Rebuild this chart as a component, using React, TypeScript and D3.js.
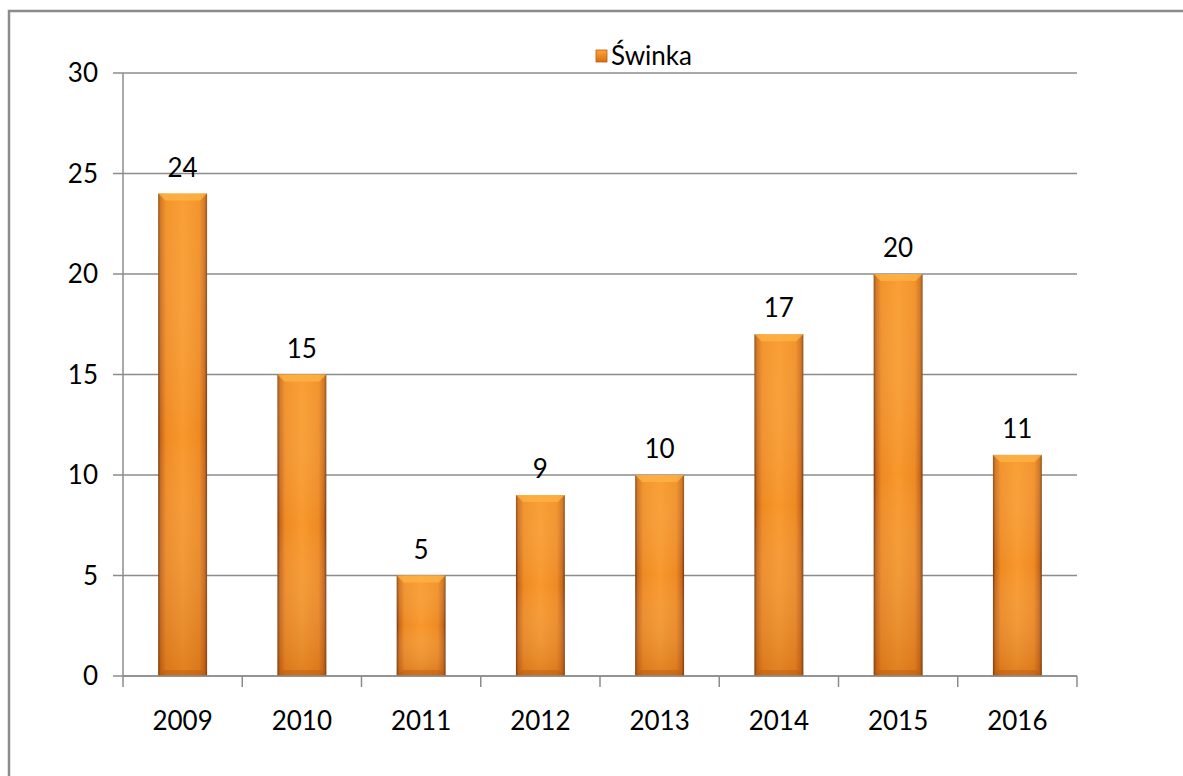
import React, { useEffect, useRef } from 'react';
import * as d3 from 'd3';

const years = ['2009', '2010', '2011', '2012', '2013', '2014', '2015', '2016'];
const values = [24, 15, 5, 9, 10, 17, 20, 11];
const yTicks = [0, 5, 10, 15, 20, 25, 30];
const seriesName = 'Świnka';

const App = () => {
  const ref = useRef<SVGSVGElement>(null);

  useEffect(() => {
    if (!ref.current) return;
    document.body.style.margin = '0';
    document.body.style.overflow = 'hidden';
    const svg = d3.select(ref.current);
    svg.selectAll('*').remove();

    const left = 123, right = 1077, top = 73, bottom = 676;
    const font = 'Lato, "Open Sans", sans-serif';
    const fs = 26;

    // gradients for bars
    const defs = svg.append('defs');
    const hg = defs.append('linearGradient').attr('id', 'barH').attr('x1', 0).attr('x2', 1).attr('y1', 0).attr('y2', 0);
    [[0, '#6e3a0c'], [0.05, '#c8661a'], [0.16, '#ee8a22'], [0.5, '#f8982c'], [0.84, '#ee8a22'], [0.95, '#c8661a'], [1, '#6e3a0c']]
      .forEach(([o, c]) => hg.append('stop').attr('offset', o as number).attr('stop-color', c as string));
    const vg = defs.append('linearGradient').attr('id', 'barV').attr('x1', 0).attr('x2', 0).attr('y1', 0).attr('y2', 1);
    [[0, '#ffb347', 0.25], [0.5, '#ffffff', 0], [1, '#a84800', 0.3]]
      .forEach(([o, c, a]) => vg.append('stop').attr('offset', o as number).attr('stop-color', c as string).attr('stop-opacity', a as number));
    const lg = defs.append('linearGradient').attr('id', 'legG').attr('x1', 0).attr('x2', 0).attr('y1', 0).attr('y2', 1);
    lg.append('stop').attr('offset', 0).attr('stop-color', '#ffa63a');
    lg.append('stop').attr('offset', 1).attr('stop-color', '#d96e14');

    // outer border
    svg.append('path')
      .attr('d', 'M9,780 L9,11 L1190,11')
      .attr('fill', 'none')
      .attr('stroke', '#8c8c8c')
      .attr('stroke-width', 2.5);

    const x = d3.scaleBand<string>().domain(years).range([left, right]).paddingInner(0.59).paddingOuter(0.295);
    const y = d3.scaleLinear().domain([0, 30]).range([bottom, top]);

    // grid
    svg.append('g')
      .selectAll('line')
      .data(yTicks)
      .join('line')
      .attr('x1', left - 10)
      .attr('x2', right)
      .attr('y1', d => y(d))
      .attr('y2', d => y(d))
      .attr('stroke', '#8c8c8c')
      .attr('stroke-width', 1.5);

    // y axis line
    svg.append('line')
      .attr('x1', left).attr('x2', left)
      .attr('y1', top).attr('y2', bottom)
      .attr('stroke', '#8c8c8c').attr('stroke-width', 1.5);

    // x ticks at category boundaries
    const step = x.step();
    const bounds = d3.range(years.length + 1).map(i => left + i * step);
    svg.append('g')
      .selectAll('line')
      .data(bounds)
      .join('line')
      .attr('x1', d => d).attr('x2', d => d)
      .attr('y1', bottom).attr('y2', bottom + 11)
      .attr('stroke', '#8c8c8c').attr('stroke-width', 1.5);

    // y labels
    svg.append('g')
      .selectAll('text')
      .data(yTicks)
      .join('text')
      .attr('x', left - 25)
      .attr('y', d => y(d))
      .attr('dy', '0.36em')
      .attr('text-anchor', 'end')
      .attr('font-family', font)
      .attr('font-size', fs)
      .text(d => d);

    // x labels
    svg.append('g')
      .selectAll('text')
      .data(years)
      .join('text')
      .attr('x', d => (x(d) as number) + x.bandwidth() / 2)
      .attr('y', 730)
      .attr('text-anchor', 'middle')
      .attr('font-family', font)
      .attr('font-size', fs)
      .text(d => d);

    // bars
    const bars = svg.append('g')
      .selectAll('g')
      .data(years.map((yr, i) => ({ yr, v: values[i] })))
      .join('g');

    bars.append('rect')
      .attr('x', d => x(d.yr) as number)
      .attr('y', d => y(d.v))
      .attr('width', x.bandwidth())
      .attr('height', d => bottom - y(d.v))
      .attr('fill', 'url(#barH)');
    bars.append('rect')
      .attr('x', d => x(d.yr) as number)
      .attr('y', d => y(d.v))
      .attr('width', x.bandwidth())
      .attr('height', d => bottom - y(d.v))
      .attr('fill', 'url(#barV)');
    // top bevel
    bars.append('path')
      .attr('d', d => {
        const x0 = x(d.yr) as number, x1 = x0 + x.bandwidth(), t = y(d.v), b = 7;
        return `M${x0},${t} L${x1},${t} L${x1 - b},${t + b} L${x0 + b},${t + b} Z`;
      })
      .attr('fill', '#ffb447')
      .attr('opacity', 0.75);
    // bottom bevel
    bars.append('path')
      .attr('d', d => {
        const x0 = x(d.yr) as number, x1 = x0 + x.bandwidth(), b = 6;
        return `M${x0},${bottom} L${x1},${bottom} L${x1 - b},${bottom - b} L${x0 + b},${bottom - b} Z`;
      })
      .attr('fill', '#b85a14')
      .attr('opacity', 0.45);

    // value labels
    bars.append('text')
      .attr('x', d => (x(d.yr) as number) + x.bandwidth() / 2)
      .attr('y', d => y(d.v) - 17)
      .attr('text-anchor', 'middle')
      .attr('font-family', font)
      .attr('font-size', fs)
      .text(d => d.v);

    // x axis line on top
    svg.append('line')
      .attr('x1', left).attr('x2', right)
      .attr('y1', bottom).attr('y2', bottom)
      .attr('stroke', '#8c8c8c').attr('stroke-width', 1.5);

    // legend
    const leg = svg.append('g').attr('transform', 'translate(596,50)');
    leg.append('rect').attr('width', 11).attr('height', 12).attr('fill', 'url(#legG)')
      .attr('stroke', '#b85d10').attr('stroke-width', 0.8);
    leg.append('text')
      .attr('x', 15).attr('y', 6)
      .attr('dy', '0.36em')
      .attr('font-family', font)
      .attr('font-size', fs)
      .text(seriesName);
  }, []);

  return (
    <svg ref={ref} width={1183} height={776} style={{ position: 'absolute', left: 0, top: 0, background: '#fff' }} />
  );
};

export default App;
